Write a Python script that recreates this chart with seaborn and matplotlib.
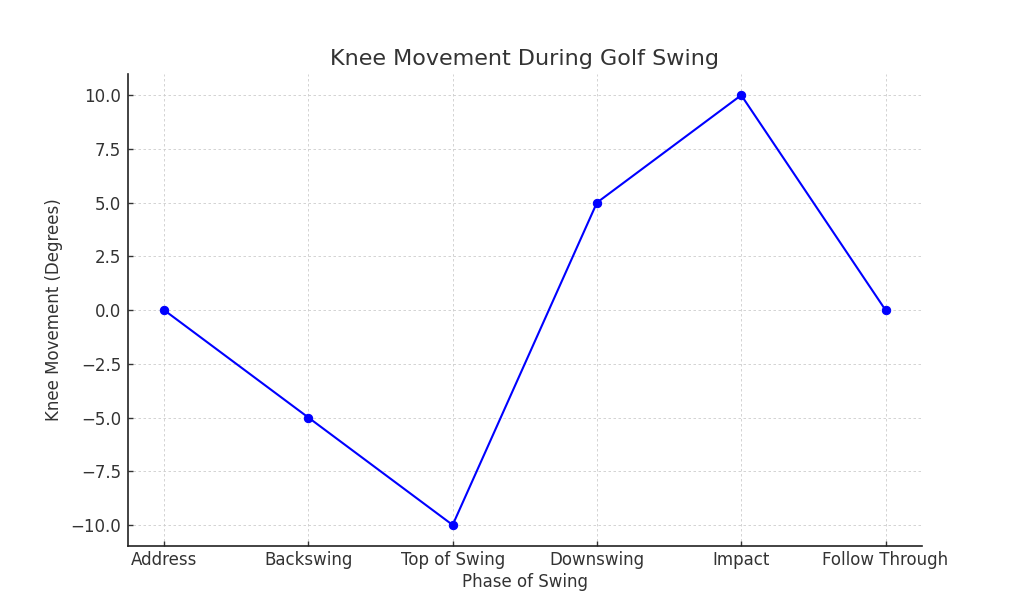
import matplotlib
matplotlib.use("Agg")
import matplotlib.pyplot as plt
import seaborn as sns
import pandas as pd

phases = ['Address', 'Backswing', 'Top of Swing', 'Downswing', 'Impact', 'Follow Through']
knee_movement = [0, -5, -10, 5, 10, 0]

df = pd.DataFrame({'phase': phases, 'movement': knee_movement})

sns.set_style('ticks')
plt.rcParams['text.color'] = '#333333'
plt.rcParams['axes.labelcolor'] = '#333333'
plt.rcParams['xtick.color'] = '#333333'
plt.rcParams['ytick.color'] = '#333333'

fig, ax = plt.subplots(figsize=(10.24, 6.14), dpi=100)
sns.lineplot(x='phase', y='movement', data=df, marker='o', color='blue',
             markeredgecolor='blue', markersize=6, linewidth=1.5, sort=False, ax=ax)

ax.set_title('Knee Movement During Golf Swing', fontsize=16)
ax.set_xlabel('Phase of Swing', fontsize=12, labelpad=3)
ax.set_ylabel('Knee Movement (Degrees)', fontsize=12, labelpad=5)
ax.tick_params(labelsize=12, direction='in', length=3.5, width=1)
ax.tick_params(axis='x', pad=3)
ax.tick_params(axis='y', pad=5)
ax.grid(True, linestyle=(0, (3, 3)), color='#cccccc', linewidth=0.6)
for s in ['left', 'bottom']:
    ax.spines[s].set_linewidth(1.2)
    ax.spines[s].set_color('#222222')
sns.despine(ax=ax)

fig.savefig('out.png', dpi=100)
